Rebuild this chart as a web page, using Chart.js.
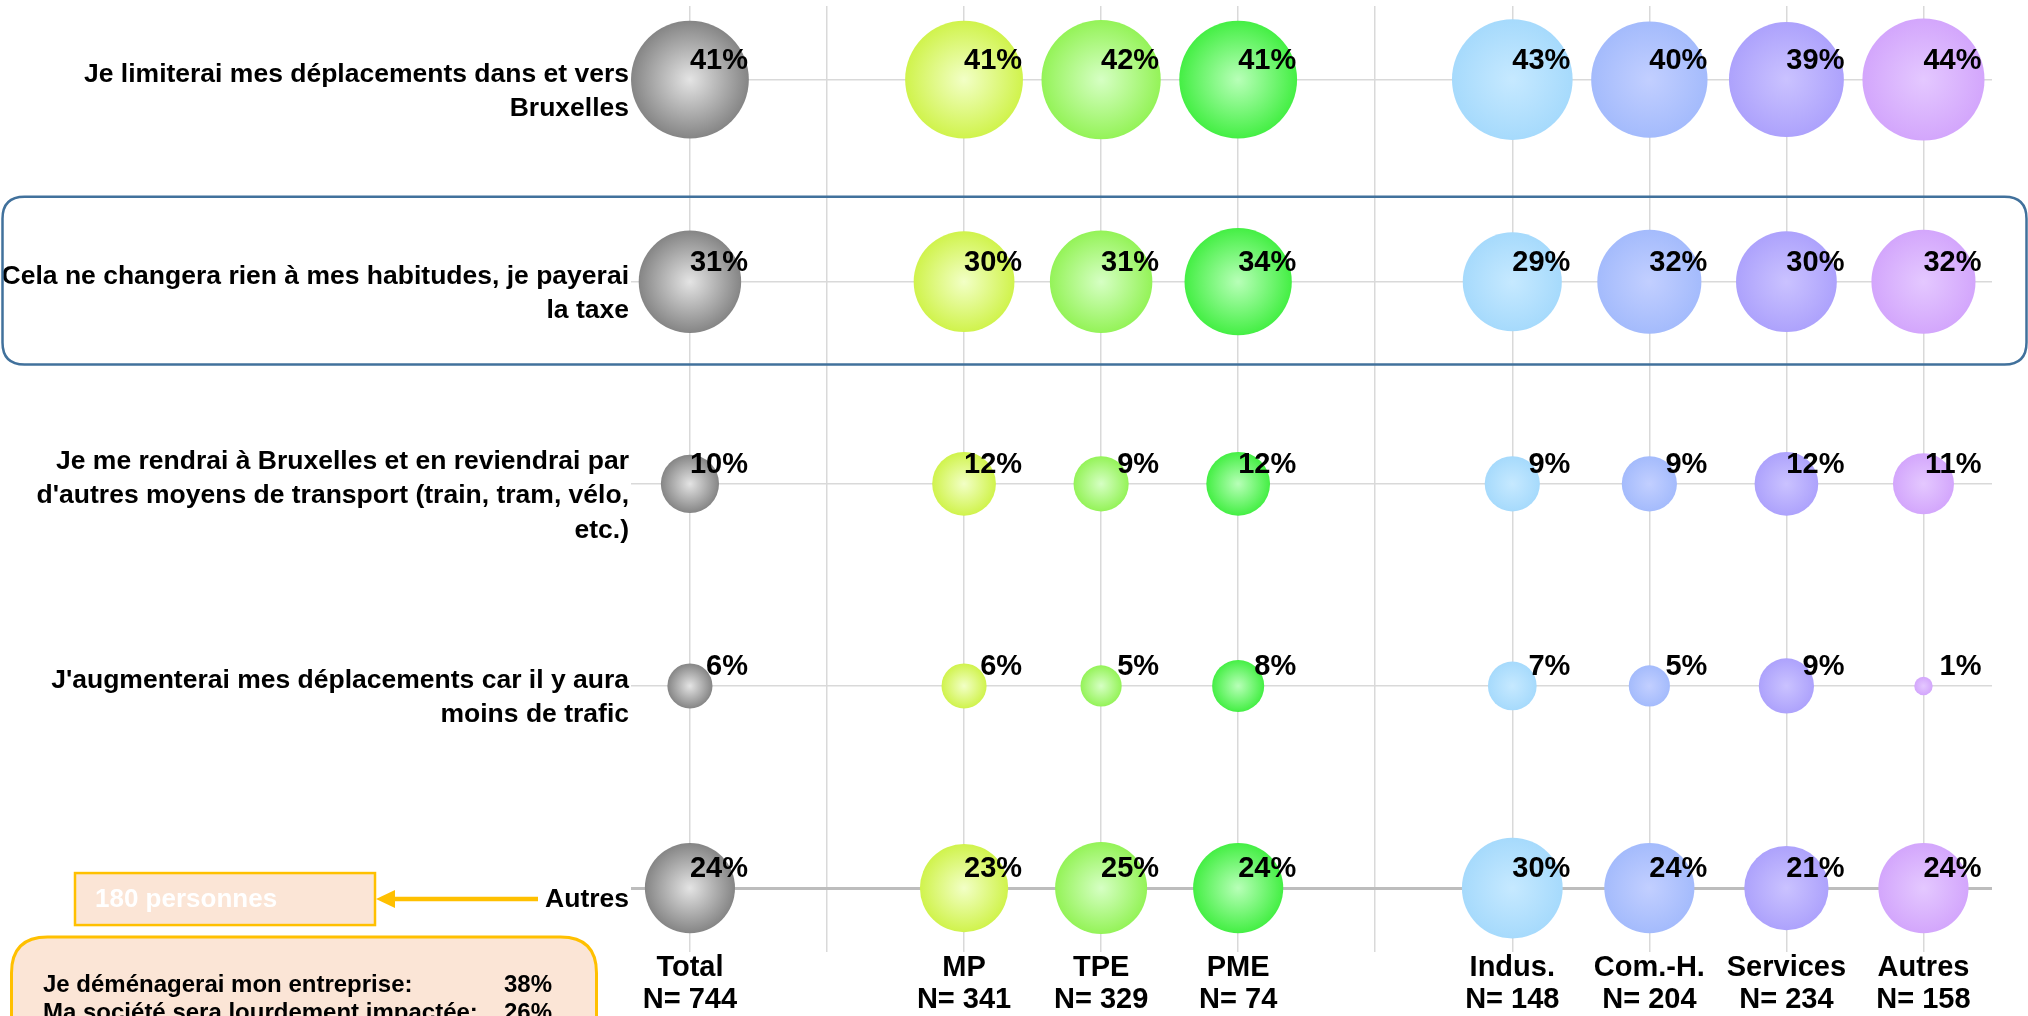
<!DOCTYPE html>
<html lang="fr">
<head>
<meta charset="utf-8">
<title>Déplacements vers Bruxelles</title>
<script src="https://cdn.jsdelivr.net/npm/chart.js@4.4.1/dist/chart.umd.min.js"></script>
<style>
  html, body { margin: 0; padding: 0; background: #fff; }
  #wrap { width: 2028px; height: 1016px; }
</style>
</head>
<body>
<div id="wrap"><canvas id="bubbleChart" width="2028" height="1016"></canvas></div>
<script>
// réponses (lignes)
const rowLabels = [
  ['Je limiterai mes déplacements dans et vers', 'Bruxelles'],
  ['Cela ne changera rien à mes habitudes, je payerai', 'la taxe'],
  ['Je me rendrai à Bruxelles et en reviendrai par', "d'autres moyens de transport (train, tram, vélo,", 'etc.)'],
  ["J'augmenterai mes déplacements car il y aura", 'moins de trafic'],
  ['Autres']
];

// segments (colonnes)
const columnNames = ['Total', 'MP', 'TPE', 'PME', 'Indus.', 'Com.-H.', 'Services', 'Autres'];
const sampleSizes = [744, 341, 329, 74, 148, 204, 234, 158];
const groupSizes = [1, 3, 4];

// % par segment, dans l'ordre des lignes
const total = [41, 31, 10, 6, 24];
const mp = [41, 30, 12, 6, 23];
const tpe = [42, 31, 9, 5, 25];
const pme = [41, 34, 12, 8, 24];
const indus = [43, 29, 9, 7, 30];
const comH = [40, 32, 9, 5, 24];
const services = [39, 30, 12, 9, 21];
const autres = [44, 32, 11, 1, 24];
const seriesValues = [total, mp, tpe, pme, indus, comH, services, autres];

// détail de la ligne "Autres"
const autresCount = '180 personnes';
const autresDetails = ['Je déménagerai mon entreprise:', 'Ma société sera lourdement impactée:'];
const autresDetailValues = [38, 26];

// couleurs des bulles : [centre, bord]
const bubbleColors = [
  ['#e4e4e4', '#858585'],
  ['#f2ffc6', '#d0f34c'],
  ['#d6ffc4', '#94f358'],
  ['#b8ffb8', '#44ef44'],
  ['#c6e9ff', '#a6dafc'],
  ['#c2cfff', '#a4bbfc'],
  ['#cac2ff', '#ada2fc'],
  ['#e4c8ff', '#d3a6fc']
];

const FONT = "'Liberation Sans', Arial, Helvetica, sans-serif";
const RADIUS_K = 9.2;

// une colonne vide entre chaque groupe de segments
const columnSlot = [];
const slotLabels = [];
let slot = 0;
let col = 0;
groupSizes.forEach(function (size, g) {
  if (g > 0) {
    slotLabels.push('');
    slot++;
  }
  for (let i = 0; i < size; i++) {
    columnSlot.push(slot);
    slotLabels.push([columnNames[col], 'N= ' + sampleSizes[col]]);
    slot++;
    col++;
  }
});

function bubbleFill(context) {
  const chart = context.chart;
  const colors = bubbleColors[context.datasetIndex];
  if (!chart.chartArea || !context.raw || context.type !== 'data') {
    return colors[1];
  }
  const x = chart.scales.x.getPixelForValue(context.raw.x);
  const y = chart.scales.y.getPixelForValue(context.raw.y);
  const r = context.raw.r;
  const g = chart.ctx.createRadialGradient(x, y, 0, x, y, r);
  g.addColorStop(0, colors[0]);
  g.addColorStop(1, colors[1]);
  return g;
}

const datasets = seriesValues.map(function (values, c) {
  return {
    label: columnNames[c],
    data: values.map(function (v, row) {
      return { x: columnSlot[c], y: row, r: RADIUS_K * Math.sqrt(v) };
    }),
    backgroundColor: bubbleFill,
    borderWidth: 0,
    clip: false
  };
});

function integerTicks(from, to) {
  return function (scale) {
    const ticks = [];
    for (let v = from; v <= to; v++) ticks.push({ value: v });
    scale.ticks = ticks;
  };
}

function noOverflow(scale) {
  scale.paddingTop = 0;
  scale.paddingBottom = 0;
  scale.paddingLeft = 0;
  scale.paddingRight = 0;
}

function roundRect(ctx, x, y, w, h, r) {
  ctx.beginPath();
  ctx.moveTo(x + r, y);
  ctx.lineTo(x + w - r, y);
  ctx.quadraticCurveTo(x + w, y, x + w, y + r);
  ctx.lineTo(x + w, y + h - r);
  ctx.quadraticCurveTo(x + w, y + h, x + w - r, y + h);
  ctx.lineTo(x + r, y + h);
  ctx.quadraticCurveTo(x, y + h, x, y + h - r);
  ctx.lineTo(x, y + r);
  ctx.quadraticCurveTo(x, y, x + r, y);
  ctx.closePath();
}

const annotations = {
  id: 'annotations',
  afterDatasetsDraw(chart) {
    // pourcentages en haut à droite de chaque bulle
    const ctx = chart.ctx;
    ctx.save();
    ctx.font = 'bold 29px ' + FONT;
    ctx.fillStyle = '#000';
    ctx.textAlign = 'right';
    ctx.textBaseline = 'middle';
    chart.data.datasets.forEach(function (ds, i) {
      chart.getDatasetMeta(i).data.forEach(function (el, j) {
        ctx.fillText(seriesValues[i][j] + '%', el.x + 58, el.y - 19);
      });
    });
    ctx.restore();
  },
  afterDraw(chart) {
    const ctx = chart.ctx;
    const yScale = chart.scales.y;
    ctx.save();

    // cadre autour de la 2e réponse
    const top = yScale.getPixelForValue(0.58);
    const bottom = yScale.getPixelForValue(1.41);
    roundRect(ctx, 2.5, top, chart.width - 4, bottom - top, 22);
    ctx.strokeStyle = '#41719c';
    ctx.lineWidth = 2.5;
    ctx.stroke();

    // "Autres" -> nombre de personnes
    const yAutres = yScale.getPixelForValue(4) + 11;
    ctx.fillStyle = '#fbe5d6';
    ctx.fillRect(75, yAutres - 26, 300, 52);
    ctx.strokeStyle = '#ffc000';
    ctx.lineWidth = 2.5;
    ctx.strokeRect(75, yAutres - 26, 300, 52);
    ctx.fillStyle = '#fff';
    ctx.font = 'bold 26px ' + FONT;
    ctx.textAlign = 'left';
    ctx.textBaseline = 'middle';
    ctx.fillText(autresCount, 95, yAutres + 1);

    ctx.strokeStyle = '#ffc000';
    ctx.lineWidth = 4.5;
    ctx.beginPath();
    ctx.moveTo(538, yAutres);
    ctx.lineTo(390, yAutres);
    ctx.stroke();
    ctx.fillStyle = '#ffc000';
    ctx.beginPath();
    ctx.moveTo(376, yAutres);
    ctx.lineTo(395, yAutres - 9);
    ctx.lineTo(395, yAutres + 9);
    ctx.closePath();
    ctx.fill();

    // détail des autres réponses
    roundRect(ctx, 11.5, 937, 585, 140, 36);
    ctx.fillStyle = '#fbe5d6';
    ctx.fill();
    ctx.strokeStyle = '#ffc000';
    ctx.lineWidth = 3;
    ctx.stroke();
    ctx.fillStyle = '#000';
    ctx.font = 'bold 24px ' + FONT;
    autresDetails.forEach(function (txt, i) {
      const ly = 985 + i * 28;
      ctx.textAlign = 'left';
      ctx.fillText(txt, 43, ly);
      ctx.textAlign = 'right';
      ctx.fillText(autresDetailValues[i] + '%', 552, ly);
    });

    ctx.restore();
  }
};

const gridColor = function (c) {
  return c.tick && c.tick.value === 4 ? '#bdbdbd' : '#d9d9d9';
};
const gridWidth = function (c) {
  return c.tick && c.tick.value === 4 ? 3 : 1.5;
};

new Chart(document.getElementById('bubbleChart'), {
  type: 'bubble',
  data: { datasets: datasets },
  options: {
    responsive: false,
    animation: false,
    events: [],
    layout: { autoPadding: false, padding: { top: 6, right: 36, left: 0, bottom: 0 } },
    plugins: {
      legend: { display: false },
      tooltip: { enabled: false }
    },
    scales: {
      x: {
        type: 'linear',
        min: -0.43,
        max: 9.5,
        afterBuildTicks: integerTicks(0, 9),
        afterFit: function (scale) {
          scale.height = 76;
          noOverflow(scale);
        },
        border: { display: false },
        grid: { color: '#d9d9d9', lineWidth: 1.5, tickLength: 12, tickColor: '#d9d9d9' },
        ticks: {
          autoSkip: false,
          maxRotation: 0,
          padding: 0,
          color: '#000',
          font: { family: FONT, size: 29, weight: 'bold', lineHeight: 1.1 },
          callback: function (value) { return slotLabels[value]; }
        }
      },
      y: {
        type: 'linear',
        reverse: true,
        min: -0.364,
        max: 4.257,
        afterBuildTicks: integerTicks(0, 4),
        afterFit: function (scale) {
          scale.width = 631;
          noOverflow(scale);
        },
        border: { display: false },
        grid: { color: gridColor, lineWidth: gridWidth, drawTicks: false },
        ticks: {
          autoSkip: false,
          padding: 2,
          labelOffset: 12,
          color: '#000',
          font: { family: FONT, size: 26.5, weight: 'bold', lineHeight: 1.3 },
          callback: function (value) { return rowLabels[value]; }
        }
      }
    }
  },
  plugins: [annotations]
});
</script>
</body>
</html>
